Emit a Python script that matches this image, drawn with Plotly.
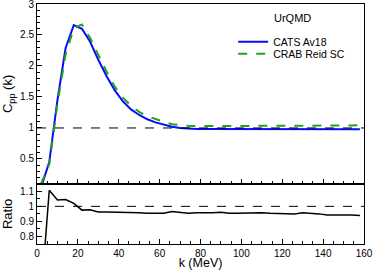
import plotly.graph_objects as go
from plotly.subplots import make_subplots

k = [2, 6, 10, 14, 18, 22, 26, 30, 34, 38, 42, 46, 50, 54, 58, 62, 66, 70, 74, 78,
     82, 86, 90, 94, 98, 102, 106, 110, 114, 118, 122, 126, 130, 134, 138, 142, 146, 150, 154, 158]
cats_av18 = [0.04, 0.45, 1.45, 2.29, 2.66, 2.60, 2.39, 2.10, 1.84, 1.61, 1.43, 1.30, 1.21, 1.14, 1.09, 1.05,
             1.02, 1.00, 0.99, 0.985, 0.985, 0.985, 0.987, 0.985, 0.985, 0.985, 0.985, 0.987, 0.985, 0.985,
             0.985, 0.983, 0.987, 0.985, 0.983, 0.980, 0.980, 0.980, 0.981, 0.980]
crab_reid = [0.10, 0.41, 1.39, 2.19, 2.61, 2.67, 2.45, 2.18, 1.91, 1.67, 1.49, 1.36, 1.26, 1.19, 1.14, 1.10,
             1.06, 1.045, 1.035, 1.03, 1.03, 1.03, 1.028, 1.03, 1.03, 1.03, 1.03, 1.03, 1.03, 1.03,
             1.03, 1.035, 1.03, 1.03, 1.035, 1.04, 1.04, 1.04, 1.04, 1.043]
ratio = [0.40, 1.107, 1.042, 1.045, 1.02, 0.975, 0.977, 0.963, 0.962, 0.962, 0.960, 0.958, 0.958, 0.955,
         0.953, 0.955, 0.965, 0.958, 0.955, 0.957, 0.955, 0.957, 0.960, 0.955, 0.955, 0.957, 0.955, 0.958,
         0.955, 0.955, 0.955, 0.950, 0.958, 0.955, 0.950, 0.942, 0.943, 0.942, 0.943, 0.940]

FONT = "Liberation Sans, Arial, sans-serif"

fig = make_subplots(rows=2, cols=1, shared_xaxes=True, vertical_spacing=0,
                    row_heights=[0.749, 0.251])

fig.add_trace(go.Scatter(x=k, y=cats_av18, mode="lines", name="CATS Av18", legend="legend",
                         line=dict(color="#0a0aff", width=2)), row=1, col=1)
fig.add_trace(go.Scatter(x=k, y=crab_reid, mode="lines", name="CRAB Reid SC", legend="legend2",
                         line=dict(color="#22a022", width=2, dash="dash")), row=1, col=1)
fig.add_trace(go.Scatter(x=k, y=ratio, mode="lines", showlegend=False,
                         line=dict(color="black", width=1.5)), row=2, col=1)

fig.add_hline(y=1, line=dict(color="black", width=1, dash="dash"), row=1, col=1)
fig.add_hline(y=1, line=dict(color="black", width=1, dash="dash"), row=2, col=1)

axis_common = dict(showline=True, linecolor="black", linewidth=1, mirror=True, automargin=False,
                   ticks="inside", tickcolor="black", ticklen=5, showgrid=False, zeroline=False,
                   ticklabeloverflow="allow",
                   tickfont=dict(family=FONT, size=10, color="black"))

fig.update_xaxes(range=[0, 160], dtick=20, tick0=0,
                 minor=dict(ticks="inside", dtick=5, ticklen=3, tickcolor="black"),
                 **axis_common)
fig.update_xaxes(showticklabels=False, row=1, col=1)
fig.update_xaxes(title=dict(text="k (MeV)", font=dict(family=FONT, size=12.5, color="black"), standoff=0),
                 row=2, col=1)

fig.update_yaxes(range=[0.1, 3], dtick=0.5, tick0=0,
                 minor=dict(ticks="inside", dtick=0.1, ticklen=3, tickcolor="black"),
                 title=dict(text="C<sub>pp</sub> (k)", font=dict(family=FONT, size=13, color="black"), standoff=5),
                 row=1, col=1, **axis_common)
fig.update_yaxes(range=[0.75, 1.15], dtick=0.1, tick0=0,
                 minor=dict(ticks="inside", dtick=0.05, ticklen=3, tickcolor="black"),
                 title=dict(text="Ratio", font=dict(family=FONT, size=13, color="black"), standoff=5),
                 row=2, col=1, **axis_common)

fig.add_annotation(text="UrQMD", xref="paper", yref="paper", x=0.78, y=0.94,
                   xanchor="center", yanchor="middle",
                   showarrow=False, font=dict(family=FONT, size=11, color="black"))

legend_common = dict(x=0.6, xanchor="left", yanchor="middle",
                     font=dict(family=FONT, size=10.5, color="black"),
                     bgcolor="rgba(0,0,0,0)", itemwidth=30)

fig.update_layout(
    width=374, height=270,
    margin=dict(l=36.5, r=10, t=4.3, b=25.7, autoexpand=False),
    plot_bgcolor="white", paper_bgcolor="white",
    showlegend=True,
    legend=dict(y=0.843, **legend_common),
    legend2=dict(y=0.793, **legend_common),
)

fig.write_html("out.html", config={"displayModeBar": False},
               post_script="document.body.style.margin='0';document.body.style.padding='0';")
